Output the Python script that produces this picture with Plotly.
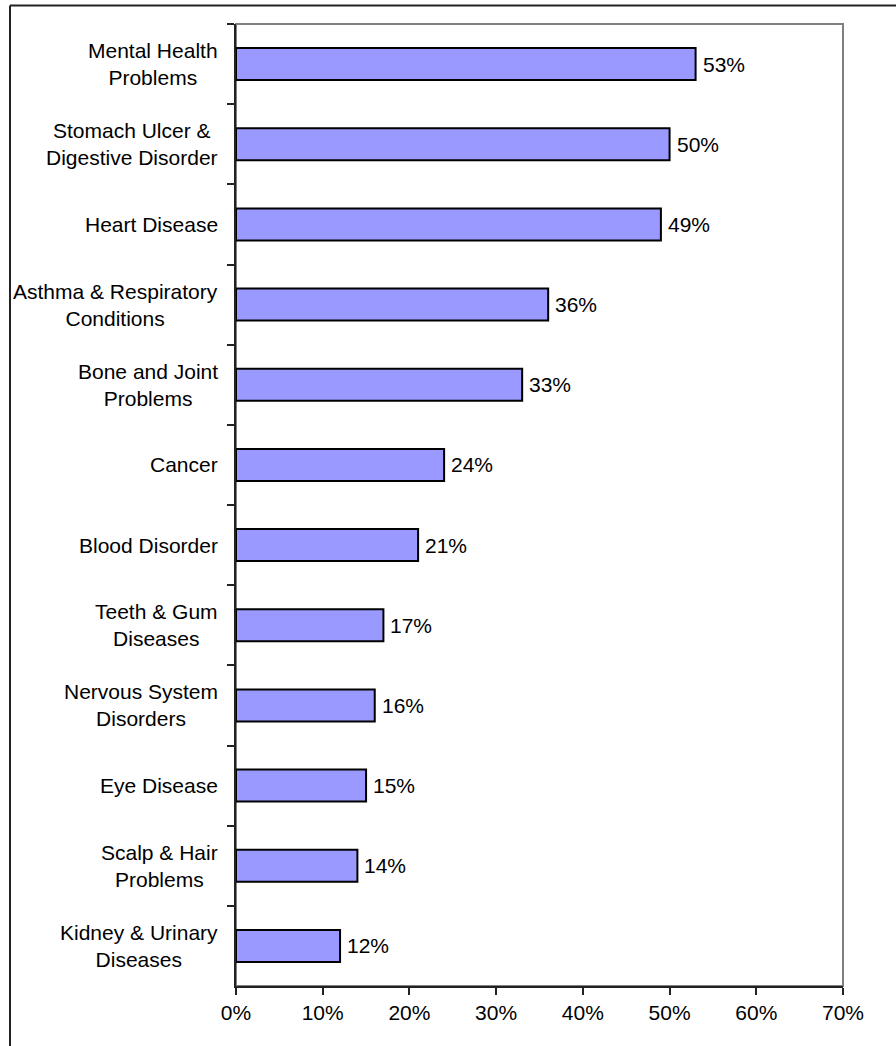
import plotly.graph_objects as go

# Share of respondents reporting each condition (%)
conditions = [
    "Mental Health<br>Problems",
    "Stomach Ulcer &<br>Digestive Disorder",
    "Heart Disease",
    "Asthma & Respiratory<br>Conditions",
    "Bone and Joint<br>Problems",
    "Cancer",
    "Blood Disorder",
    "Teeth & Gum<br>Diseases",
    "Nervous System<br>Disorders",
    "Eye Disease",
    "Scalp & Hair<br>Problems",
    "Kidney & Urinary<br>Diseases",
]
percent = [53, 50, 49, 36, 33, 24, 21, 17, 16, 15, 14, 12]
x_ticks = [0, 10, 20, 30, 40, 50, 60, 70]
x_tick_labels = ["0%", "10%", "20%", "30%", "40%", "50%", "60%", "70%"]

W, H = 896, 1046
ML, MR, MT, MB = 236, 53, 24, 60
FONT = "Liberation Sans, Arial, sans-serif"
FS = 21

pw = W - ML - MR
ph = H - MT - MB

fig = go.Figure(
    go.Bar(
        x=percent,
        y=conditions,
        orientation="h",
        marker=dict(color="#9999FF", line=dict(color="#000000", width=2)),
        hoverinfo="skip",
    )
)

annotations = []
# category labels, centred line by line, to the left of the axis
for name in conditions:
    annotations.append(dict(
        x=0, xref="paper", y=name, yref="y",
        text=name, showarrow=False, xanchor="right", yanchor="middle",
        align="center", xshift=-16,
        font=dict(family=FONT, size=FS, color="#000000"),
    ))
# value labels at the bar ends
for name, v in zip(conditions, percent):
    annotations.append(dict(
        x=v, xref="x", y=name, yref="y",
        text=f"{v}%", showarrow=False, xanchor="left", yanchor="middle",
        xshift=5,
        font=dict(family=FONT, size=FS, color="#000000"),
    ))

# outer frame (top and left edges visible)
fx = (10 - ML) / pw
fy = (H - MB - 5.5) / ph
shapes = [
    dict(type="rect", xref="paper", yref="paper", x0=0, x1=1, y0=0, y1=1,
         line=dict(color="#808080", width=2), layer="below"),
    dict(type="line", xref="paper", yref="paper", x0=fx, x1=1.2, y0=fy, y1=fy,
         line=dict(color="#222222", width=2)),
    dict(type="line", xref="paper", yref="paper", x0=fx, x1=fx, y0=fy, y1=-0.2,
         line=dict(color="#222222", width=2)),
]

fig.update_layout(
    width=W, height=H,
    margin=dict(l=ML, r=MR, t=MT, b=MB),
    paper_bgcolor="#FFFFFF", plot_bgcolor="#FFFFFF",
    bargap=0.6,
    showlegend=False,
    annotations=annotations,
    shapes=shapes,
    font=dict(family=FONT, size=FS, color="#000000"),
)
fig.update_xaxes(
    range=[0, 70], tickmode="array", tickvals=x_ticks, ticktext=x_tick_labels,
    showgrid=False, zeroline=False,
    showline=True, linecolor="#222222", linewidth=2,
    ticks="outside", ticklen=7, tickwidth=1.5, tickcolor="#222222",
    tickfont=dict(family=FONT, size=FS, color="#000000"),
    fixedrange=True,
)
fig.update_yaxes(
    autorange="reversed", showticklabels=False,
    showgrid=False, zeroline=False,
    showline=True, linecolor="#222222", linewidth=2,
    ticks="outside", ticklen=7, tickwidth=1.5, tickcolor="#222222",
    tickson="boundaries",
    fixedrange=True,
)

fig.write_html("out.html", config={"displayModeBar": False})
